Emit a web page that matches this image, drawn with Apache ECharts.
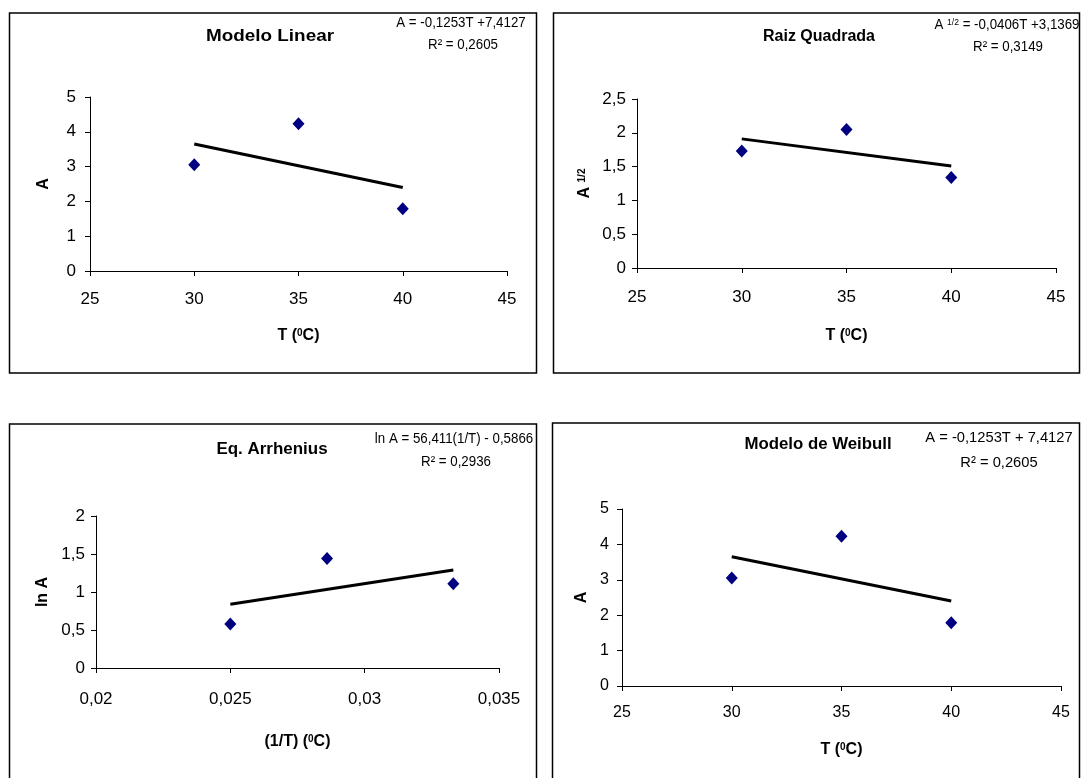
<!DOCTYPE html>
<html><head><meta charset="utf-8">
<script src="https://cdn.jsdelivr.net/npm/echarts@6/dist/echarts.min.js"></script>
<style>html,body{margin:0;padding:0;background:#fff}#c{width:1081px;height:778px}</style>
</head><body><div id="c"></div>
<script>
// ---- data ----
const temps = [30, 35, 40];
const valuesA = [3.05, 4.23, 1.79];
const valuesSqrtA = [1.73, 2.05, 1.34];
const invTemps = [0.025, 0.0286, 0.0333];
const valuesLnA = [0.58, 1.44, 1.11];
const trendT = [30, 40];
const trendA = [3.65, 2.40];
const trendSqrtA = [1.91, 1.51];
const trendInvT = [0.025, 0.0333];
const trendLnA = [0.84, 1.29];
const titles = ['Modelo Linear', 'Raiz Quadrada', 'Eq. Arrhenius', 'Modelo de Weibull'];
const eqLine1 = ['A = -0,1253T +7,4127', 'A {s|1/2} = -0,0406T +3,1369', 'ln A = 56,411(1/T) - 0,5866', 'A = -0,1253T + 7,4127'];
const eqLine2 = ['R² = 0,2605', 'R² = 0,3149', 'R² = 0,2936', 'R² = 0,2605'];
const xNames = ['T ({s|0}C)', 'T ({s|0}C)', '(1/T) ({s|0}C)', 'T ({s|0}C)'];
const yNames = ['A', 'A {s|1/2}', 'ln A', 'A'];

const FONT = 'Liberation Sans, Arial, sans-serif';
const fmt = v => String(Math.round(v * 10000) / 10000).replace('.', ',');
const pairs = (xs, ys) => xs.map((x, i) => [x, ys[i]]);

const grids = [
  {left: 90, right: 574, top: 97, bottom: 507},
  {left: 637, right: 25, top: 99, bottom: 510},
  {left: 96, right: 582, top: 516, bottom: 110},
  {left: 622, right: 20, top: 509, bottom: 92}
];
const xRanges = [[25, 45, 5], [25, 45, 5], [0.02, 0.035, 0.005], [25, 45, 5]];
const yRanges = [[0, 5, 1], [0, 2.5, 0.5], [0, 2, 0.5], [0, 5, 1]];
const xGap = [57, 60, 66, 56];
const yGap = [38, 44, 45, 32];
const xMargin = [20, 21, 23, 19];
const yMargin = [14, 11, 11, 13];
const tickFs = [17, 17, 17, 16];

const supRich = {s: {fontSize: 10, fontWeight: 'bold', fontFamily: FONT, verticalAlign: 'top', color: '#000'}};

const xAxis = grids.map((g, i) => ({
  type: 'value', gridIndex: i, min: xRanges[i][0], max: xRanges[i][1], interval: xRanges[i][2],
  name: xNames[i], nameLocation: 'middle', nameGap: xGap[i],
  nameTextStyle: {fontFamily: FONT, fontWeight: 'bold', fontSize: 16, color: '#000', rich: supRich},
  axisLine: {show: true, onZero: false, lineStyle: {color: '#000', width: 1}},
  axisTick: {show: true, inside: false, length: 5, lineStyle: {color: '#000'}},
  splitLine: {show: false},
  axisLabel: {color: '#000', fontFamily: FONT, fontSize: tickFs[i], margin: xMargin[i], formatter: fmt}
}));
const yAxis = grids.map((g, i) => ({
  type: 'value', gridIndex: i, min: yRanges[i][0], max: yRanges[i][1], interval: yRanges[i][2],
  name: yNames[i], nameLocation: 'middle', nameGap: yGap[i], nameRotate: 90,
  nameTextStyle: {fontFamily: FONT, fontWeight: 'bold', fontSize: 16, color: '#000', rich: supRich},
  axisLine: {show: true, onZero: false, lineStyle: {color: '#000', width: 1}},
  axisTick: {show: true, inside: false, length: 5, lineStyle: {color: '#000'}},
  splitLine: {show: false},
  axisLabel: {color: '#000', fontFamily: FONT, fontSize: tickFs[i], margin: yMargin[i], formatter: fmt}
}));

const scatterData = [pairs(temps, valuesA), pairs(temps, valuesSqrtA), pairs(invTemps, valuesLnA), pairs(temps, valuesA)];
const trendData = [pairs(trendT, trendA), pairs(trendT, trendSqrtA), pairs(trendInvT, trendLnA), pairs(trendT, trendA)];

const series = [];
for (let i = 0; i < 4; i++) {
  series.push({type: 'line', xAxisIndex: i, yAxisIndex: i, data: trendData[i], symbol: 'none',
    lineStyle: {color: '#000', width: 3}, silent: true, z: 2});
  series.push({type: 'scatter', xAxisIndex: i, yAxisIndex: i, data: scatterData[i], symbol: 'diamond',
    symbolSize: [12, 13], itemStyle: {color: '#000080', opacity: 1}, z: 3});
}

// layout of decorations
const borders = [[9.5, 13, 527, 360], [553.5, 13, 526, 360], [9.5, 424, 527, 400], [552.5, 423, 527, 400]];
const titlePos = [[270, 37, 1.18], [819, 37, 1.0], [272, 450, 1.06], [818, 445, 1.05]];
const eqPos = [[461, 23, 463, 45, 14], [1007, 25, 1008, 47, 14], [454, 439, 456, 462, 14], [999, 438, 999, 463, 15.5]];

const graphic = [];
borders.forEach(b => graphic.push({type: 'rect', shape: {x: b[0], y: b[1], width: b[2], height: b[3]},
  style: {fill: 'none', stroke: '#000', lineWidth: 1.5}, silent: true, z: 0}));
titles.forEach((t, i) => graphic.push({type: 'text', x: titlePos[i][0], y: titlePos[i][1], scaleX: titlePos[i][2],
  style: {text: t, fill: '#000', font: 'bold 16px ' + FONT, align: 'center', verticalAlign: 'middle'}}));
eqLine1.forEach((t, i) => {
  const p = eqPos[i];
  graphic.push({type: 'text', x: p[0], y: p[1], scaleX: 0.95,
    style: {text: t, fill: '#000', font: p[4] + 'px ' + FONT, align: 'center', verticalAlign: 'middle',
      rich: {s: {fontSize: 9, fontFamily: FONT, verticalAlign: 'top', fill: '#000'}}}});
  graphic.push({type: 'text', x: p[2], y: p[3], scaleX: 0.95,
    style: {text: eqLine2[i], fill: '#000', font: p[4] + 'px ' + FONT, align: 'center', verticalAlign: 'middle'}});
});

const chart = echarts.init(document.getElementById('c'), null, {renderer: 'canvas'});
chart.setOption({
  animation: false,
  backgroundColor: '#fff',
  grid: grids.map(g => Object.assign({containLabel: false}, g)),
  xAxis, yAxis, series, graphic
});
</script></body></html>
